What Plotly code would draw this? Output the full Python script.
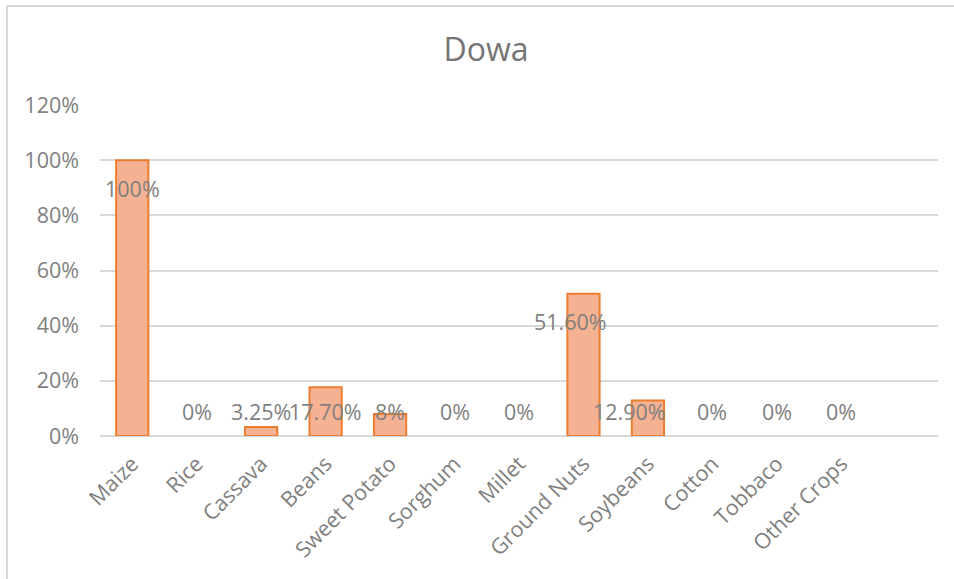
import plotly.graph_objects as go

categories = ["Maize", "Rice", "Cassava", "Beans", "Sweet Potato", "Sorghum",
              "Millet", "Ground Nuts", "Soybeans", "Cotton", "Tobbaco", "Other Crops"]
values = [1.00, 0.0, 0.0325, 0.177, 0.08, 0.0, 0.0, 0.516, 0.129, 0.0, 0.0, 0.0]
labels = ["100%", "0%", "3.25%", "17.70%", "8%", "0%", "0%", "51.60%", "12.90%", "0%", "0%", "0%"]
title_text = "Dowa"

# extra empty slot at the end of the category axis (as in the original)
axis_cats = categories + [" "]

FONT = "Open Sans"
GRAY = "#7f7f7f"
SIZE = 21.5

fig = go.Figure()
fig.add_trace(go.Bar(
    x=categories, y=values, width=0.5,
    marker=dict(color="#F5B293",
                line=dict(color="#ED7D31", width=[2 if v > 0 else 0 for v in values])),
    hoverinfo="skip", showlegend=False,
))

label_xshift = {"Ground Nuts": -13, "Soybeans": -18}
for c, v, t in zip(categories, values, labels):
    fig.add_annotation(
        x=c, y=max(v, 0.19), yshift=-28, xshift=label_xshift.get(c, 0),
        text=t, showarrow=False, yanchor="middle", xanchor="center",
        font=dict(family=FONT, size=SIZE, color=GRAY),
    )

fig.update_layout(
    width=954, height=579,
    margin=dict(l=100, r=16, t=105, b=143),
    paper_bgcolor="white", plot_bgcolor="white",
    title=dict(text=title_text, x=486 / 954, xanchor="center", y=1 - 50 / 579, yanchor="middle",
               font=dict(family=FONT, size=32, color="#757575")),
    bargap=0.5,
    xaxis=dict(
        type="category", categoryorder="array", categoryarray=axis_cats,
        range=[-0.5, len(axis_cats) - 0.5],
        tickangle=-45, showgrid=False, zeroline=False, showline=False,
        ticks="", tickfont=dict(family=FONT, size=SIZE, color=GRAY),
        tickvals=categories, ticklabelstandoff=10,
    ),
    yaxis=dict(
        range=[0, 1.2], dtick=0.2, tickformat=".0%",
        showgrid=True, gridcolor="#d9d9d9", gridwidth=1.5,
        zeroline=True, zerolinecolor="#d9d9d9", zerolinewidth=1.5,
        showline=False, ticks="", ticklabelstandoff=20,
        tickfont=dict(family=FONT, size=SIZE, color=GRAY),
    ),
    shapes=[
        dict(type="line", xref="paper", yref="paper",
             x0=-93 / 838, x1=-93 / 838, y0=-143 / 331, y1=1 + 99 / 331,
             line=dict(color="#d9d9d9", width=2)),
        dict(type="line", xref="paper", yref="paper",
             x0=-93 / 838, x1=1 + 16 / 838, y0=1 + 99 / 331, y1=1 + 99 / 331,
             line=dict(color="#d9d9d9", width=2)),
    ],
)

fig.write_html("out.html")
